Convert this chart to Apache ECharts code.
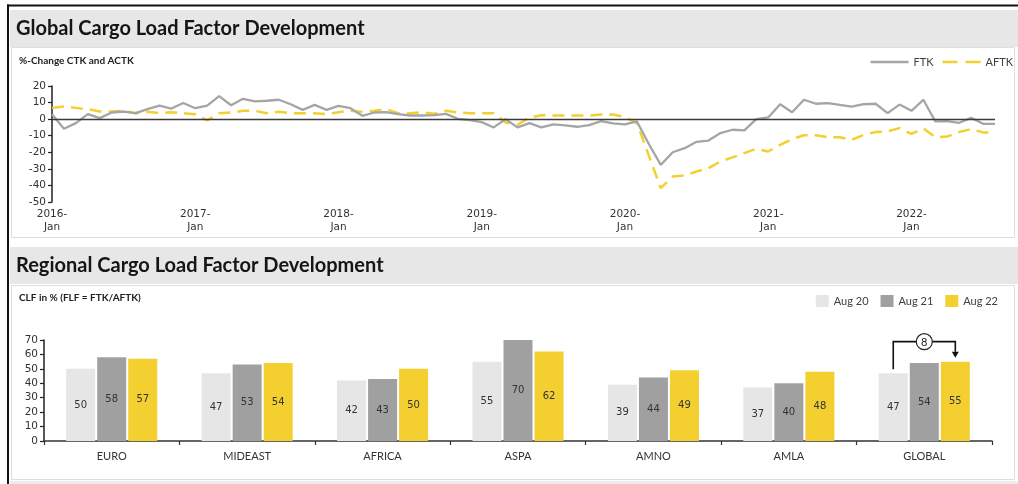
<!DOCTYPE html>
<html>
<head>
<meta charset="utf-8">
<script src="https://cdn.jsdelivr.net/npm/echarts@6/dist/echarts.min.js"></script>
<style>
  html, body { margin: 0; padding: 0; background: #fff; }
  #chart { width: 1018px; height: 484px; }
</style>
</head>
<body>
<div id="chart"></div>
<script>
// ---- Monthly % change, Jan 2016 – Aug 2022 ----
const years = ['2016', '2017', '2018', '2019', '2020', '2021', '2022'];
const monthNames = ['Jan', 'Feb', 'Mar', 'Apr', 'May', 'Jun', 'Jul', 'Aug', 'Sep', 'Oct', 'Nov', 'Dec'];
const months = [];
years.forEach(y => monthNames.forEach(m => months.push(y + '-' + m)));
months.length = 80; // series run through 2022-Aug

const ftk = [
  3, -5.8, -2.4, 3, 0.6, 4, 4.6, 3.6, 6, 8.2, 6.4, 9.7,
  6.6, 8.2, 13.9, 8.4, 12.3, 10.7, 11.1, 11.7, 9, 5.6, 8.6, 5.6,
  8, 6.6, 2, 4, 4.2, 3, 2.2, 2.2, 2.4, 3.2, 0.2, -0.6,
  -1.8, -5, 0, -5, -2.4, -5, -3.2, -3.8, -4.6, -3.6, -1.2, -2.6,
  -3.2, -1.4, -15, -27.6, -20, -17.5, -13.7, -12.9, -8.4, -6.4, -6.8, 0,
  1, 9, 4.2, 11.7, 9.3, 9.7, 8.6, 7.6, 9, 9.3, 3.6, 8.8,
  5, 11.7, -1.4, -1.2, -2.2, 0.8, -2.8, -2.8
];
const aftk = [
  6.8, 7.6, 6.8, 6, 4.6, 4.6, 5, 3.6, 4.4, 3.6, 4.2, 3.6,
  3, -0.8, 3.6, 4, 5, 5, 3.6, 4.4, 3.6, 3.6, 3.6, 3,
  4.2, 5, 4.4, 5, 6, 3.6, 3.6, 4.2, 3.2, 5, 4, 3.6,
  3.6, 3.6, -2, -3.4, 1, 2.4, 2.2, 2.2, 2.2, 2.2, 2.8, 2.8,
  1.2, -2.4, -22, -41.6, -34.6, -34, -31.6, -29.6, -25.5, -23.1, -20.5, -17.9,
  -19.5, -15.5, -12, -9.7, -9.7, -10.9, -10.9, -12.5, -9.5, -7.8, -7.4, -5.4,
  -8.9, -5.6, -10.9, -10.5, -7.8, -6, -8, -8
];

// ---- Regional cargo load factor (%) ----
const regions = ['EURO', 'MIDEAST', 'AFRICA', 'ASPA', 'AMNO', 'AMLA', 'GLOBAL'];
const aug20 = [50, 47, 42, 55, 39, 37, 47];
const aug21 = [58, 53, 43, 70, 44, 40, 54];
const aug22 = [57, 54, 50, 62, 49, 48, 55];

const C_GREY = '#a5a5a5';
const C_YELLOW = '#f3d030';
const C_LIGHT = '#e6e6e6';
const C_TEXT = '#333333';
const TITLE_FONT = 'bold 20px Lato, "Noto Sans", sans-serif';
const SUB_FONT = 'bold 10px Lato, "Noto Sans", sans-serif';

const chart = echarts.init(document.getElementById('chart'), null, { renderer: 'canvas' });

// page frame, section headers and panels
const frame = [
  { id: 'bg-top', type: 'rect', z: -20, shape: { x: 7, y: 4.5, width: 1011, height: 2 }, style: { fill: '#111' } },
  { id: 'bg-left', type: 'rect', z: -20, shape: { x: 7, y: 4.5, width: 2, height: 480 }, style: { fill: '#111' } },
  { id: 'band1', type: 'rect', z: -20, shape: { x: 10, y: 10, width: 1008, height: 37 }, style: { fill: '#e7e7e7' } },
  { id: 'panel1', type: 'rect', z: -20, shape: { x: 11.5, y: 47.5, width: 1003, height: 190 }, style: { fill: '#fff', stroke: '#dedede', lineWidth: 1 } },
  { id: 'band2', type: 'rect', z: -20, shape: { x: 10, y: 247, width: 1008, height: 37 }, style: { fill: '#e7e7e7' } },
  { id: 'panel2', type: 'rect', z: -20, shape: { x: 11.5, y: 285.5, width: 1003, height: 194 }, style: { fill: '#fff', stroke: '#dedede', lineWidth: 1 } },
  { id: 'band3', type: 'rect', z: -20, shape: { x: 10, y: 481, width: 1008, height: 3 }, style: { fill: '#ececec' } },
  { id: 't1', type: 'text', z: 10, x: 16, y: 29, style: { text: 'Global Cargo Load Factor Development', font: TITLE_FONT, fill: '#151515', verticalAlign: 'middle' } },
  { id: 't2', type: 'text', z: 10, x: 16, y: 266, style: { text: 'Regional Cargo Load Factor Development', font: TITLE_FONT, fill: '#151515', verticalAlign: 'middle' } },
  { id: 's1', type: 'text', z: 10, x: 19, y: 61, style: { text: '%-Change CTK and ACTK', font: SUB_FONT, fill: '#222', verticalAlign: 'middle' } },
  { id: 's2', type: 'text', z: 10, x: 19, y: 298, style: { text: 'CLF in % (FLF = FTK/AFTK)', font: SUB_FONT, fill: '#222', verticalAlign: 'middle' } }
];

const tickLabel = { fontFamily: '"DejaVu Sans", sans-serif', fontSize: 10.5, color: C_TEXT };

const barLabel = {
  show: true, position: 'inside', color: C_TEXT,
  fontFamily: '"DejaVu Sans", sans-serif', fontSize: 10
};

// legend keys: a solid stroke and a two-dash stroke
const ICON_SOLID = 'path://M0,0H38V2.5H0Z';
const ICON_DASH = 'path://M0,0H15V2.5H0Z M23,0H38V2.5H23Z';

const option = {
  animation: false,
  backgroundColor: '#fff',
  graphic: { elements: frame },
  legend: [
    {
      data: [
        { name: 'FTK', icon: ICON_SOLID, itemStyle: { color: C_GREY } },
        { name: 'AFTK', icon: ICON_DASH, itemStyle: { color: C_YELLOW } }
      ],
      right: 0, top: 51.5, itemWidth: 38, itemHeight: 2.5, itemGap: 9,
      textStyle: { fontFamily: 'Lato, sans-serif', fontSize: 11, color: '#404040' }
    },
    {
      data: ['Aug 20', 'Aug 21', 'Aug 22'], right: 15, top: 290, itemWidth: 13, itemHeight: 12, itemGap: 12,
      icon: 'rect',
      textStyle: { fontFamily: 'Lato, sans-serif', fontSize: 11, color: '#404040' }
    }
  ],
  grid: [
    { left: 52, right: 23, top: 86, bottom: 282 },
    { left: 44, right: 26, top: 340, bottom: 43 }
  ],
  xAxis: [
    {
      type: 'category', gridIndex: 0, data: months, boundaryGap: false,
      axisLine: { show: false, onZero: false }, axisTick: { show: false },
      axisLabel: Object.assign({ interval: 11, margin: 6, lineHeight: 13, formatter: v => v.replace('-', '-\n') }, tickLabel),
      splitLine: { show: false }
    },
    {
      type: 'category', gridIndex: 1, data: regions,
      axisLine: { lineStyle: { color: '#333', width: 1.5 } },
      axisTick: { show: true, length: 4, lineStyle: { color: '#333', width: 1.2 } },
      axisLabel: { margin: 10, fontFamily: 'Lato, sans-serif', fontSize: 11, color: C_TEXT }
    }
  ],
  yAxis: [
    {
      type: 'value', gridIndex: 0, min: -50, max: 20, interval: 10,
      axisLine: { show: true, lineStyle: { color: '#222', width: 1.5 } },
      axisTick: { show: true, length: 4, lineStyle: { color: '#222', width: 1.2 } },
      axisLabel: Object.assign({ margin: 6 }, tickLabel),
      splitLine: { show: false }
    },
    {
      type: 'value', gridIndex: 1, min: 0, max: 70, interval: 10,
      axisLine: { show: true, lineStyle: { color: '#222', width: 1.5 } },
      axisTick: { show: true, length: 4, lineStyle: { color: '#222', width: 1.2 } },
      axisLabel: Object.assign({ margin: 6 }, tickLabel),
      splitLine: { show: false }
    }
  ],
  series: [
    {
      name: 'FTK', type: 'line', xAxisIndex: 0, yAxisIndex: 0, data: ftk,
      symbol: 'none', color: C_GREY,
      lineStyle: { color: C_GREY, width: 2.3 },
      markLine: {
        silent: true, symbol: ['none', 'none'], label: { show: false },
        lineStyle: { color: '#3a3a3a', width: 1.3, type: 'solid' },
        data: [{ yAxis: 0 }]
      },
      z: 3
    },
    {
      name: 'AFTK', type: 'line', xAxisIndex: 0, yAxisIndex: 0, data: aftk,
      symbol: 'none', color: C_YELLOW,
      lineStyle: { color: C_YELLOW, width: 2.5, type: [12, 7] },
      z: 2
    },
    {
      name: 'Aug 20', type: 'bar', xAxisIndex: 1, yAxisIndex: 1, data: aug20,
      barWidth: 29, barGap: '7%', itemStyle: { color: C_LIGHT }, label: barLabel
    },
    {
      name: 'Aug 21', type: 'bar', xAxisIndex: 1, yAxisIndex: 1, data: aug21,
      barWidth: 29, barGap: '7%', itemStyle: { color: '#a0a0a0' }, label: barLabel
    },
    {
      name: 'Aug 22', type: 'bar', xAxisIndex: 1, yAxisIndex: 1, data: aug22,
      barWidth: 29, barGap: '7%', itemStyle: { color: C_YELLOW }, label: barLabel
    }
  ]
};

chart.setOption(option);

// Change bracket over the GLOBAL group: Aug 20 -> Aug 22
function barBox(seriesIndex, dataIndex) {
  const l = chart.getModel().getSeriesByIndex(seriesIndex).getData().getItemLayout(dataIndex);
  return { cx: l.x + l.width / 2, top: Math.min(l.y, l.y + l.height) };
}
const gi = regions.indexOf('GLOBAL');
const b20 = barBox(2, gi), b21 = barBox(3, gi), b22 = barBox(4, gi);
const yLine = Math.min(b20.top, b21.top, b22.top) - 20;
const tipY = b22.top - 4;
const headH = 6, headW = 3.5;
const cx = (b20.cx + b22.cx) / 2;
const diff = aug22[gi] - aug20[gi];

const bracket = [
  { id: 'br-line', type: 'polyline', z: 50,
    shape: { points: [[b20.cx, b20.top - 4], [b20.cx, yLine], [b22.cx, yLine], [b22.cx, tipY - headH]] },
    style: { stroke: '#111', lineWidth: 1.6, fill: null } },
  { id: 'br-head', type: 'polygon', z: 50,
    shape: { points: [[b22.cx - headW, tipY - headH], [b22.cx + headW, tipY - headH], [b22.cx, tipY]] },
    style: { fill: '#111' } },
  { id: 'br-circle', type: 'circle', z: 51,
    shape: { cx: cx, cy: yLine, r: 8 },
    style: { fill: '#fff', stroke: '#222', lineWidth: 1.2 } },
  { id: 'br-text', type: 'text', z: 52, x: cx, y: yLine + 0.5,
    style: { text: String(diff), font: '11px Lato, sans-serif', fill: '#222', align: 'center', verticalAlign: 'middle' } }
];

chart.setOption({ graphic: { elements: frame.concat(bracket) } });
</script>
</body>
</html>
